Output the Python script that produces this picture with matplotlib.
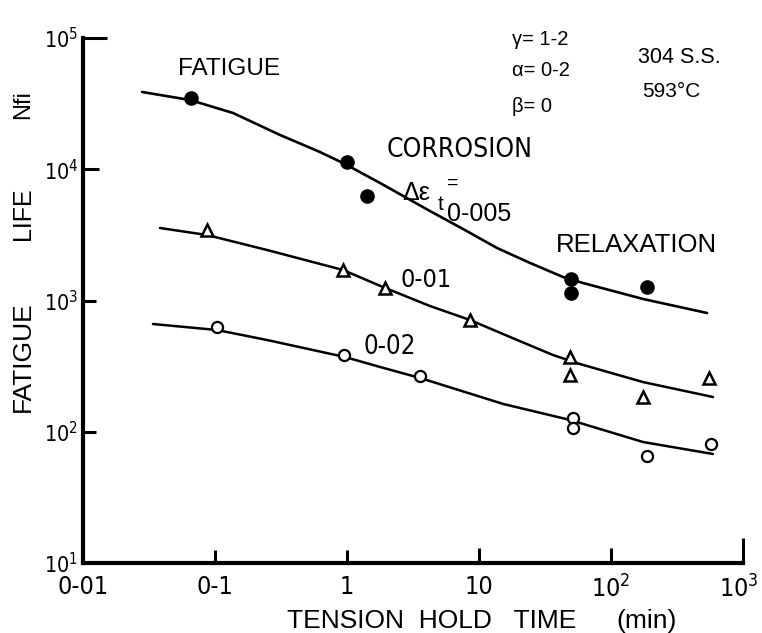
import matplotlib
matplotlib.use("Agg")
import matplotlib.pyplot as plt
from matplotlib import font_manager
from matplotlib.transforms import ScaledTranslation

# ---- data -------------------------------------------------------------
# strain range 0.005 (filled circles)
hold_005 = [0.066, 1.0, 1.42, 50.0, 50.0, 188.0]
life_005 = [34900, 11350, 6250, 1460, 1140, 1260]
curve_x_005 = [0.028, 0.0647, 0.137, 0.311, 0.624, 0.966, 1.78, 4.25, 7.57, 13.7,
               24.4, 43.3, 61.4, 175.0, 534.0]
curve_y_005 = [38800, 33700, 26830, 18240, 13530, 10965, 7856, 4807, 3506, 2512,
               1931, 1510, 1359, 1027, 803]

# strain range 0.01 (open triangles)
hold_01 = [0.087, 0.93, 1.94, 8.55, 49.0, 49.0, 175.0, 553.0]
life_01 = [3445, 1708, 1245, 710, 371, 271, 184, 257]
curve_x_01 = [0.0383, 0.087, 0.248, 0.933, 1.87, 4.25, 8.55, 17.2, 36.4, 58.3, 175.0, 592.0]
curve_y_01 = [3567, 3155, 2425, 1708, 1267, 908, 710, 527, 384, 328, 239, 184]

# strain range 0.02 (open circles)
hold_02 = [0.1035, 0.95, 3.57, 51.5, 51.5, 188.0, 572.0]
life_02 = [628, 385, 266, 127, 107, 65, 80.7]
curve_x_02 = [0.0339, 0.1035, 0.248, 0.966, 1.78, 3.57, 15.2, 48.9, 175.0, 592.0]
curve_y_02 = [662, 596, 500, 371, 311.5, 257, 163, 123, 83.5, 67.7]

x_ticks = [0.01, 0.1, 1, 10, 100, 1000]
x_tick_labels = ["0-01", "0-1", "1", "10", r"$\mathregular{10^2}$", r"$\mathregular{10^3}$"]
y_ticks = [10, 100, 1000, 10000, 100000]
y_tick_labels = [r"$\mathregular{10^1}$", r"$\mathregular{10^2}$", r"$\mathregular{10^3}$",
                 r"$\mathregular{10^4}$", r"$\mathregular{10^5}$"]

# ---- fonts ------------------------------------------------------------
fm = font_manager.fontManager
installed = {f.name for f in fm.ttflist}
REG = "Liberation Sans" if "Liberation Sans" in installed else "DejaVu Sans"


def _narrow_entry():
    """Pick an upright, regular-weight condensed sans face if one exists."""
    best = None
    for f in fm.ttflist:
        tag = (f.name + " " + f.fname).lower()
        if "mono" in tag or "serif" in tag or "bold" in tag or "oblique" in tag or "italic" in tag:
            continue
        if f.style != "normal":
            continue
        if "narrow" in tag or "condensed" in tag or f.stretch in ("condensed", "semi-condensed"):
            rank = 0 if "liberation" in tag else 1
            if best is None or rank < best[0]:
                best = (rank, f)
    return best[1] if best else None


nar = _narrow_entry()
if nar is not None:
    NARROW = font_manager.FontProperties(fname=nar.fname)
    nar_pattern = "{}:stretch={}".format(nar.name.replace("-", r"\-"), nar.stretch)
else:
    NARROW = font_manager.FontProperties(family=REG)
    nar_pattern = REG

plt.rcParams["font.family"] = [REG, "DejaVu Sans"]
plt.rcParams["mathtext.fontset"] = "custom"
plt.rcParams["mathtext.rm"] = nar_pattern
plt.rcParams["mathtext.it"] = nar_pattern


def narrow(size):
    p = NARROW.copy()
    p.set_size(size)
    return p


INK = "black"

fig = plt.figure(figsize=(7.62, 6.33), dpi=100)
ax = fig.add_axes([83 / 762, 70 / 633, 660 / 762, 525 / 633])
ax.set_xscale("log")
ax.set_yscale("log")
ax.set_xlim(0.01, 1000)
ax.set_ylim(10, 100000)

# fitted curves
ax.plot(curve_x_005, curve_y_005, color=INK, lw=1.9, solid_capstyle="round",
        solid_joinstyle="round", zorder=2)
ax.plot(curve_x_01, curve_y_01, color=INK, lw=1.8, solid_capstyle="round",
        solid_joinstyle="round", zorder=2)
ax.plot(curve_x_02, curve_y_02, color=INK, lw=1.8, solid_capstyle="round",
        solid_joinstyle="round", zorder=2)

# test points
ax.plot(hold_005, life_005, "o", ms=9.5, mfc=INK, mec=INK, ls="none", zorder=3)
ax.plot(hold_01, life_01, "^", ms=9, mfc="white", mec=INK, mew=1.8, ls="none", zorder=3)
ax.plot(hold_02, life_02, "o", ms=8, mfc="white", mec=INK, mew=1.6, ls="none", zorder=3)

# axes frame
for side in ("top", "right"):
    ax.spines[side].set_visible(False)
for side in ("left", "bottom"):
    ax.spines[side].set_linewidth(3.0)
    ax.spines[side].set_color(INK)

ax.minorticks_off()
ax.set_xticks(x_ticks)
ax.set_xticklabels(x_tick_labels)
ax.set_yticks(y_ticks)
ax.set_yticklabels(y_tick_labels)
ax.tick_params(axis="x", direction="in", length=9.5, width=2.2, pad=9, colors=INK)
ax.tick_params(axis="y", direction="in", length=9.5, width=2.2, pad=3.5, colors=INK)
for lab in ax.get_xticklabels():
    lab.set_fontproperties(narrow(18))
for lab in ax.get_yticklabels():
    lab.set_fontproperties(narrow(15.5))

# keep the last x label inside the figure edge
last = ax.get_xticklabels()[-1]
last.set_transform(last.get_transform() + ScaledTranslation(-4 / 100, 0, fig.dpi_scale_trans))

# individual tick lengths
xlen = [0, 9.5, 9.5, 11, 11, 18]
ylen = [0, 9.5, 9.5, 11.5, 17]
for t, L in zip(ax.xaxis.get_major_ticks(), xlen):
    t.tick1line.set_markersize(L)
for t, L in zip(ax.yaxis.get_major_ticks(), ylen):
    t.tick1line.set_markersize(L)

# annotations
ax.text(0.1277, 58000, "FATIGUE", fontsize=17.5, ha="center", va="center")
ax.text(7.18, 14000, "CORROSION", fontproperties=narrow(19), ha="center", va="center")
ax.text(2.61, 5830, "Δε", fontsize=18, ha="left", va="baseline")
ax.text(4.89, 4890, "t", fontsize=15, ha="left", va="baseline")
ax.text(5.73, 7850, "=", fontsize=14, ha="left", va="center")
ax.text(5.73, 4560, "0-005", fontsize=18, ha="left", va="center")
ax.text(154.6, 2650, "RELAXATION", fontsize=18.5, ha="center", va="center")
ax.text(3.96, 1432, "0-01", fontproperties=narrow(18), ha="center", va="center")
ax.text(2.12, 443, "0-02", fontproperties=narrow(18.5), ha="center", va="center")

ax.text(17.8, 96600, "γ= 1-2", fontsize=14.5, ha="left", va="center")
ax.text(17.8, 57000, "α= 0-2", fontsize=14.5, ha="left", va="center")
ax.text(17.8, 30300, "β= 0", fontsize=14.5, ha="left", va="center")
ax.text(160, 70500, "304 S.S.", fontsize=15.5, ha="left", va="center")
ax.text(172, 38800, "593°C", fontsize=15, ha="left", va="center")

# axis titles
fig.text(23 / 762, 1 - 357 / 633, "FATIGUE", fontsize=19, rotation=90, ha="center", va="center")
fig.text(23 / 762, 1 - 214 / 633, "LIFE", fontsize=18, rotation=90, ha="center", va="center")
fig.text(23 / 762, 1 - 105 / 633, "Nfi", fontsize=17, rotation=90, ha="center", va="center")
fig.text(432 / 762, 1 - 621 / 633, "TENSION  HOLD   TIME", fontsize=19, ha="center", va="center")
fig.text(647 / 762, 1 - 621 / 633, "(min)", fontsize=19, ha="center", va="center")

fig.savefig("out.png", dpi=100)
